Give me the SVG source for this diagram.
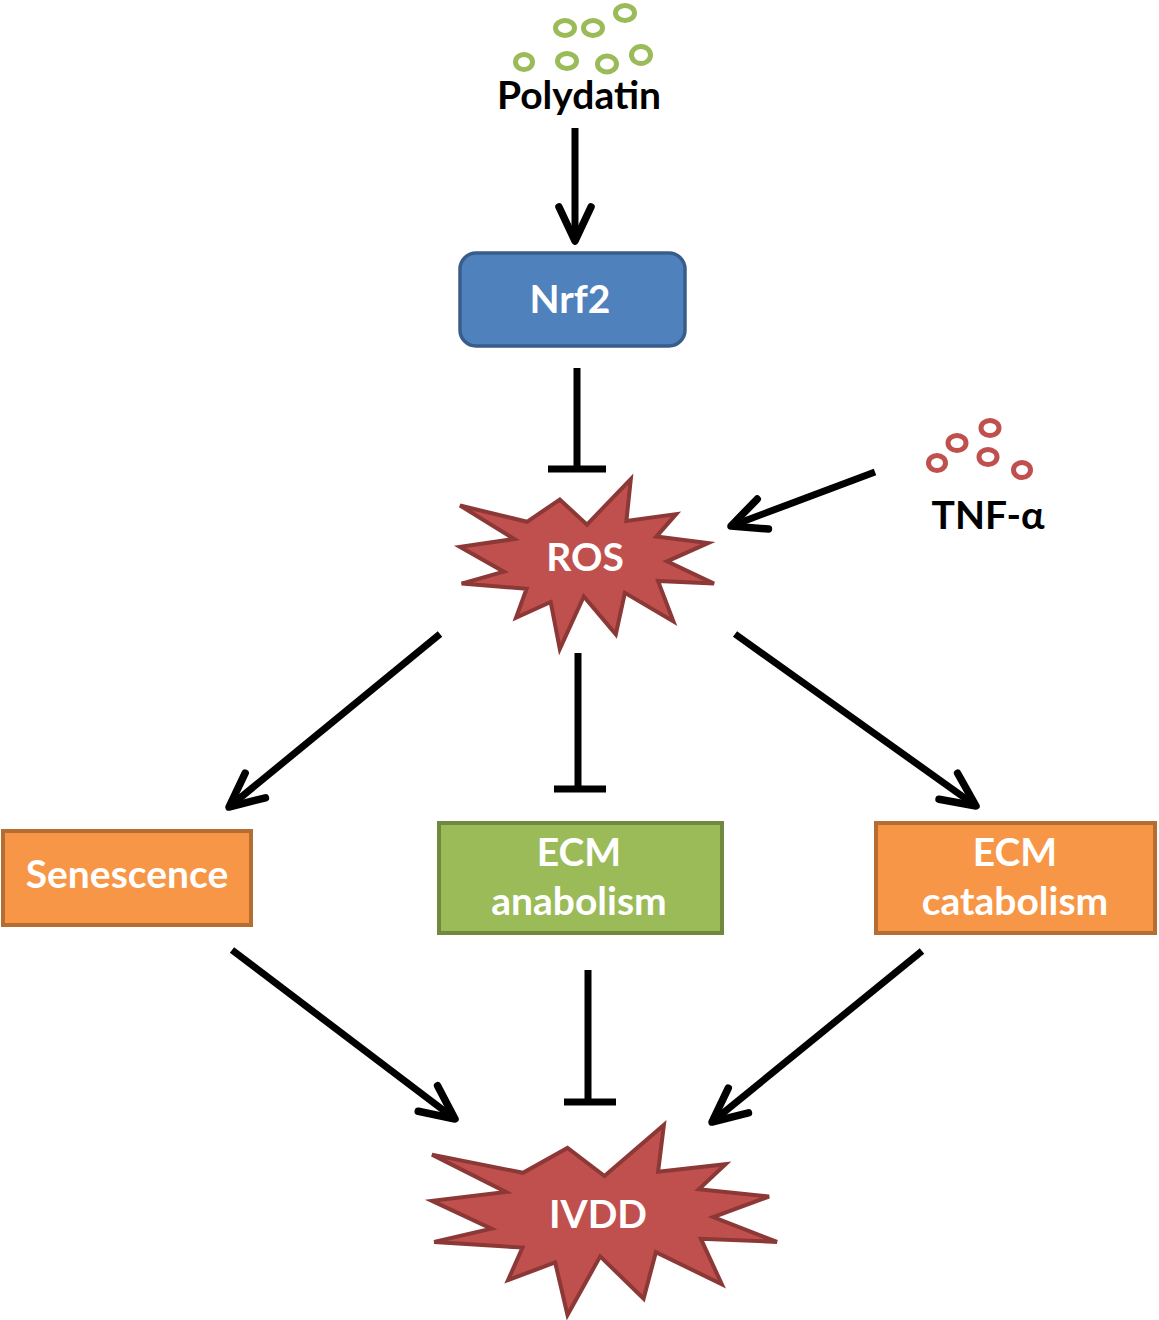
<svg xmlns="http://www.w3.org/2000/svg" width="1159" height="1320" viewBox="0 0 1159 1320">
<style>
.lbl{font-family:Lato,"Liberation Sans",sans-serif;font-weight:bold;font-size:39px;text-anchor:middle}
.w{fill:#ffffff}
.k{fill:#000000}
.conn{stroke:#000;stroke-width:7;fill:none}
.gdot{fill:#ffffff;stroke:#9BBB59;stroke-width:5}
.rdot{fill:#ffffff;stroke:#C0504D;stroke-width:5}
.star{fill:#C0504D;stroke:#8C3836;stroke-width:4;stroke-linejoin:miter}
.orange{fill:#F79646;stroke:#B66D31;stroke-width:4}
</style>
<defs>
<marker id="arr" markerUnits="userSpaceOnUse" viewBox="-40 -20 44 40" refX="0" refY="0" markerWidth="44" markerHeight="40" orient="auto" overflow="visible">
<path d="M-34,-16 L0,0 L-34,16" fill="none" stroke="#000" stroke-width="7.5" stroke-linecap="round" stroke-linejoin="round"/>
</marker>
</defs>
<rect width="1159" height="1320" fill="#ffffff"/>

<g id="polydatin">
<ellipse class="gdot" cx="565" cy="28" rx="9.5" ry="7.5"/>
<ellipse class="gdot" cx="593" cy="28" rx="9.5" ry="7.5"/>
<ellipse class="gdot" cx="625" cy="13" rx="9.5" ry="7.5"/>
<ellipse class="gdot" cx="524" cy="62" rx="8.5" ry="7.5"/>
<ellipse class="gdot" cx="567" cy="61" rx="9.5" ry="7.5"/>
<ellipse class="gdot" cx="607" cy="64" rx="9.5" ry="8"/>
<ellipse class="gdot" cx="641" cy="55" rx="9.5" ry="8.5"/>
<text class="lbl k" x="579" y="109">Polydatin</text>
</g>

<g id="tnf">
<ellipse class="rdot" cx="937" cy="463" rx="8.5" ry="7.5"/>
<ellipse class="rdot" cx="957" cy="443" rx="9" ry="7.5"/>
<ellipse class="rdot" cx="990" cy="428" rx="9" ry="7.5"/>
<ellipse class="rdot" cx="988" cy="457" rx="9" ry="7.5"/>
<ellipse class="rdot" cx="1022" cy="470" rx="8.5" ry="7.5"/>
<text class="lbl k" x="988" y="529">TNF-α</text>
</g>

<g id="nrf2">
<rect x="460" y="253" width="225" height="93" rx="16" ry="16" fill="#4F81BD" stroke="#385D8A" stroke-width="3.5"/>
<text class="lbl w" x="570" y="313">Nrf2</text>
</g>

<g id="ros">
<path class="star" d="M587,524.6 L630.8,479 L626.4,520.9 L676.1,514.1 L656.4,536.6 L708.1,543 L667,561.4 L714,583.6 L658,580.9 L673.4,621.4 L624.9,592.8 L615.8,634.3 L583.8,596.5 L559.8,649 L550.7,602 L516,617.7 L526.6,588.7 L461.6,583.6 L503.8,571.7 L460,546.8 L514.4,539 L460,505.5 L527,521.8 L559.8,499.6 Z"/>
<text class="lbl w" x="585" y="571">ROS</text>
</g>

<g id="senescence">
<rect class="orange" x="3" y="831" width="248" height="94"/>
<text class="lbl w" x="127" y="888">Senescence</text>
</g>

<g id="ecm-anabolism">
<rect x="439" y="823" width="283" height="110" fill="#9BBB59" stroke="#71893F" stroke-width="4"/>
<text class="lbl w" x="579" y="866">ECM</text>
<text class="lbl w" x="579" y="915">anabolism</text>
</g>

<g id="ecm-catabolism">
<rect class="orange" x="876" y="823" width="279" height="110"/>
<text class="lbl w" x="1015" y="866">ECM</text>
<text class="lbl w" x="1015" y="915">catabolism</text>
</g>

<g id="ivdd">
<path class="star" d="M604.5,1176 L663.9,1125 L658.1,1171.8 L725.6,1164.2 L698.8,1189.3 L769,1196.6 L713.2,1217.1 L777,1241.9 L700.9,1238.8 L721.8,1284.2 L655.9,1252.2 L643.6,1298.6 L600.2,1256.4 L567.5,1315 L555.2,1262.5 L508.1,1280 L522.5,1247.6 L434.2,1241.9 L491.4,1228.6 L432,1200.8 L505.9,1192 L432,1154.6 L523,1172.8 L567.5,1148 Z"/>
<text class="lbl w" x="598" y="1228">IVDD</text>
</g>

<g id="connectors">
<line class="conn" x1="575" y1="128" x2="575" y2="241" marker-end="url(#arr)"/>
<line class="conn" x1="577" y1="368" x2="577" y2="469"/>
<line class="conn" x1="548" y1="469" x2="606" y2="469" stroke-width="9"/>
<line class="conn" x1="875" y1="472" x2="731" y2="526" marker-end="url(#arr)"/>
<line class="conn" x1="440" y1="634" x2="229" y2="807" marker-end="url(#arr)"/>
<line class="conn" x1="578" y1="653" x2="578" y2="789"/>
<line class="conn" x1="554" y1="789" x2="606" y2="789" stroke-width="9"/>
<line class="conn" x1="735" y1="634" x2="976" y2="806" marker-end="url(#arr)"/>
<line class="conn" x1="232" y1="950" x2="455" y2="1119" marker-end="url(#arr)"/>
<line class="conn" x1="588" y1="970" x2="588" y2="1102"/>
<line class="conn" x1="564" y1="1102" x2="616" y2="1102" stroke-width="9"/>
<line class="conn" x1="922" y1="951" x2="712" y2="1122" marker-end="url(#arr)"/>
</g>
</svg>
